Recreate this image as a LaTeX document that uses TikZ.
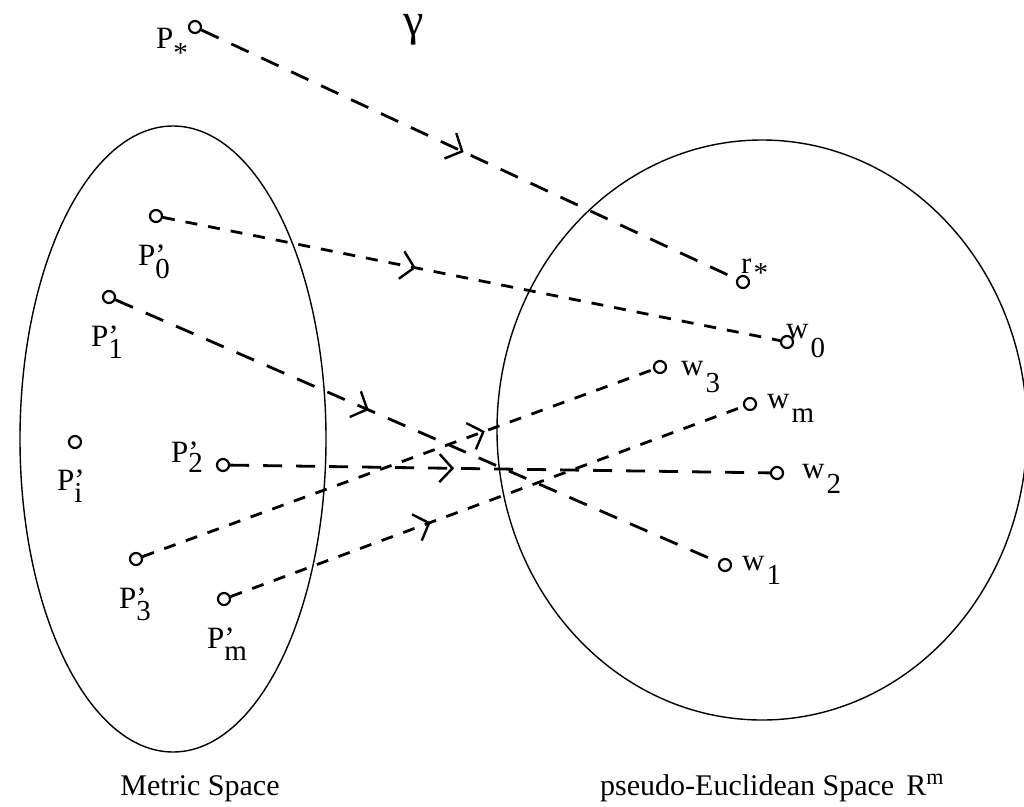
\documentclass[tikz,border=0pt]{standalone}
\usepackage{fontspec}
\setmainfont{Liberation Serif}
\usetikzlibrary{arrows.meta,decorations.markings}
\newcommand\subf{\fontsize{29}{29}\selectfont}
\newcommand\plab[2]{P\rlap{’}\raisebox{-#1pt}{\subf #2}}
\newcommand\wlab[3]{#1\hspace{2pt}\raisebox{-#2pt}{\subf #3}}
\begin{document}
\begin{tikzpicture}[x=1pt,y=-1pt,
  pt/.style={circle,draw,line width=2.2pt,minimum size=12pt,inner sep=0pt},
  lbl/.style={inner sep=0pt,anchor=base west,font=\fontsize{31}{31}\selectfont},
  captxt/.style={inner sep=0pt,anchor=base,font=\fontsize{30}{30}\selectfont},
  longd/.style={line width=2.8pt,dash pattern=on 19pt off 14pt},
  shortd/.style={line width=2.8pt,dash pattern=on 12pt off 11pt},
  mid/.style={postaction={decorate},decoration={markings,
    mark=at position #1 with {\arrow[line width=2.4pt]{Straight Barb[length=13pt,width=28pt]}}}},
  region/.style={line width=1.4pt}]
\useasboundingbox (0,0) rectangle (1024,806);
% regions
\draw[region] (173,439) ellipse [x radius=153pt, y radius=313pt];
\draw[region] (762,430) ellipse [x radius=265pt, y radius=290pt];
% points
\node[pt] (Ps) at (195,27) {};
\node[pt] (P0) at (156,216) {};
\node[pt] (P1) at (109,297) {};
\node[pt] (Pi) at (75,442) {};
\node[pt] (P2) at (223,465) {};
\node[pt] (P3) at (136,559) {};
\node[pt] (Pm) at (224,599) {};
\node[pt] (rs) at (743,282) {};
\node[pt] (w0) at (787,342) {};
\node[pt] (w3) at (660,367) {};
\node[pt] (wm) at (750,404) {};
\node[pt] (w2) at (777,473) {};
\node[pt] (w1) at (725,565) {};
% labels
\node[lbl] (lPs) at (156,48) {P\raisebox{-14pt}{\subf *}};
\node[lbl] (lP0) at (138,265) {\plab{13}{0}};
\node[lbl] (lP1) at (91,346) {\plab{12}{1}};
\node[lbl] (lPi) at (57,490) {\plab{12}{i}};
\node[lbl] (lP2) at (171,462) {\plab{10}{2}};
\node[lbl] (lP3) at (119,608) {\plab{12}{3}};
\node[lbl] (lPm) at (207,648) {\plab{12}{m}};
\node[lbl] (lrs) at (741,273) {\wlab{r}{9}{*}};
\node[lbl] (lw0) at (786,338) {\wlab{w}{19}{0}};
\node[lbl] (lw3) at (681,375) {\wlab{w}{17}{3}};
\node[lbl] (lwm) at (767,408) {\wlab{w}{14}{m}};
\node[lbl] (lw2) at (802,478) {\wlab{w}{15}{2}};
\node[lbl] (lw1) at (742,570) {\wlab{w}{14}{1}};
\node[inner sep=0pt,font=\fontsize{46}{46}\selectfont] (gam) at (414,30) {γ};
% captions
\node[captxt] (cm) at (200,795) {Metric Space};
\node[captxt,anchor=base west] (cp) at (600,795) {pseudo-Euclidean Space\hspace{12pt}R\raisebox{11pt}{\fontsize{22}{22}\selectfont m}};
% connectors
\draw[longd,mid=0.49] (Ps) -- (rs);
\draw[shortd,mid=0.41] (P0) -- (w0);
\draw[longd,mid=0.42] (P1) -- (w1);
\draw[longd,mid=0.415] (P2) -- (w2);
\draw[shortd,mid=0.67] (P3) -- (w3);
\draw[shortd,mid=0.39] (Pm) -- (wm);
\end{tikzpicture}
\end{document}
